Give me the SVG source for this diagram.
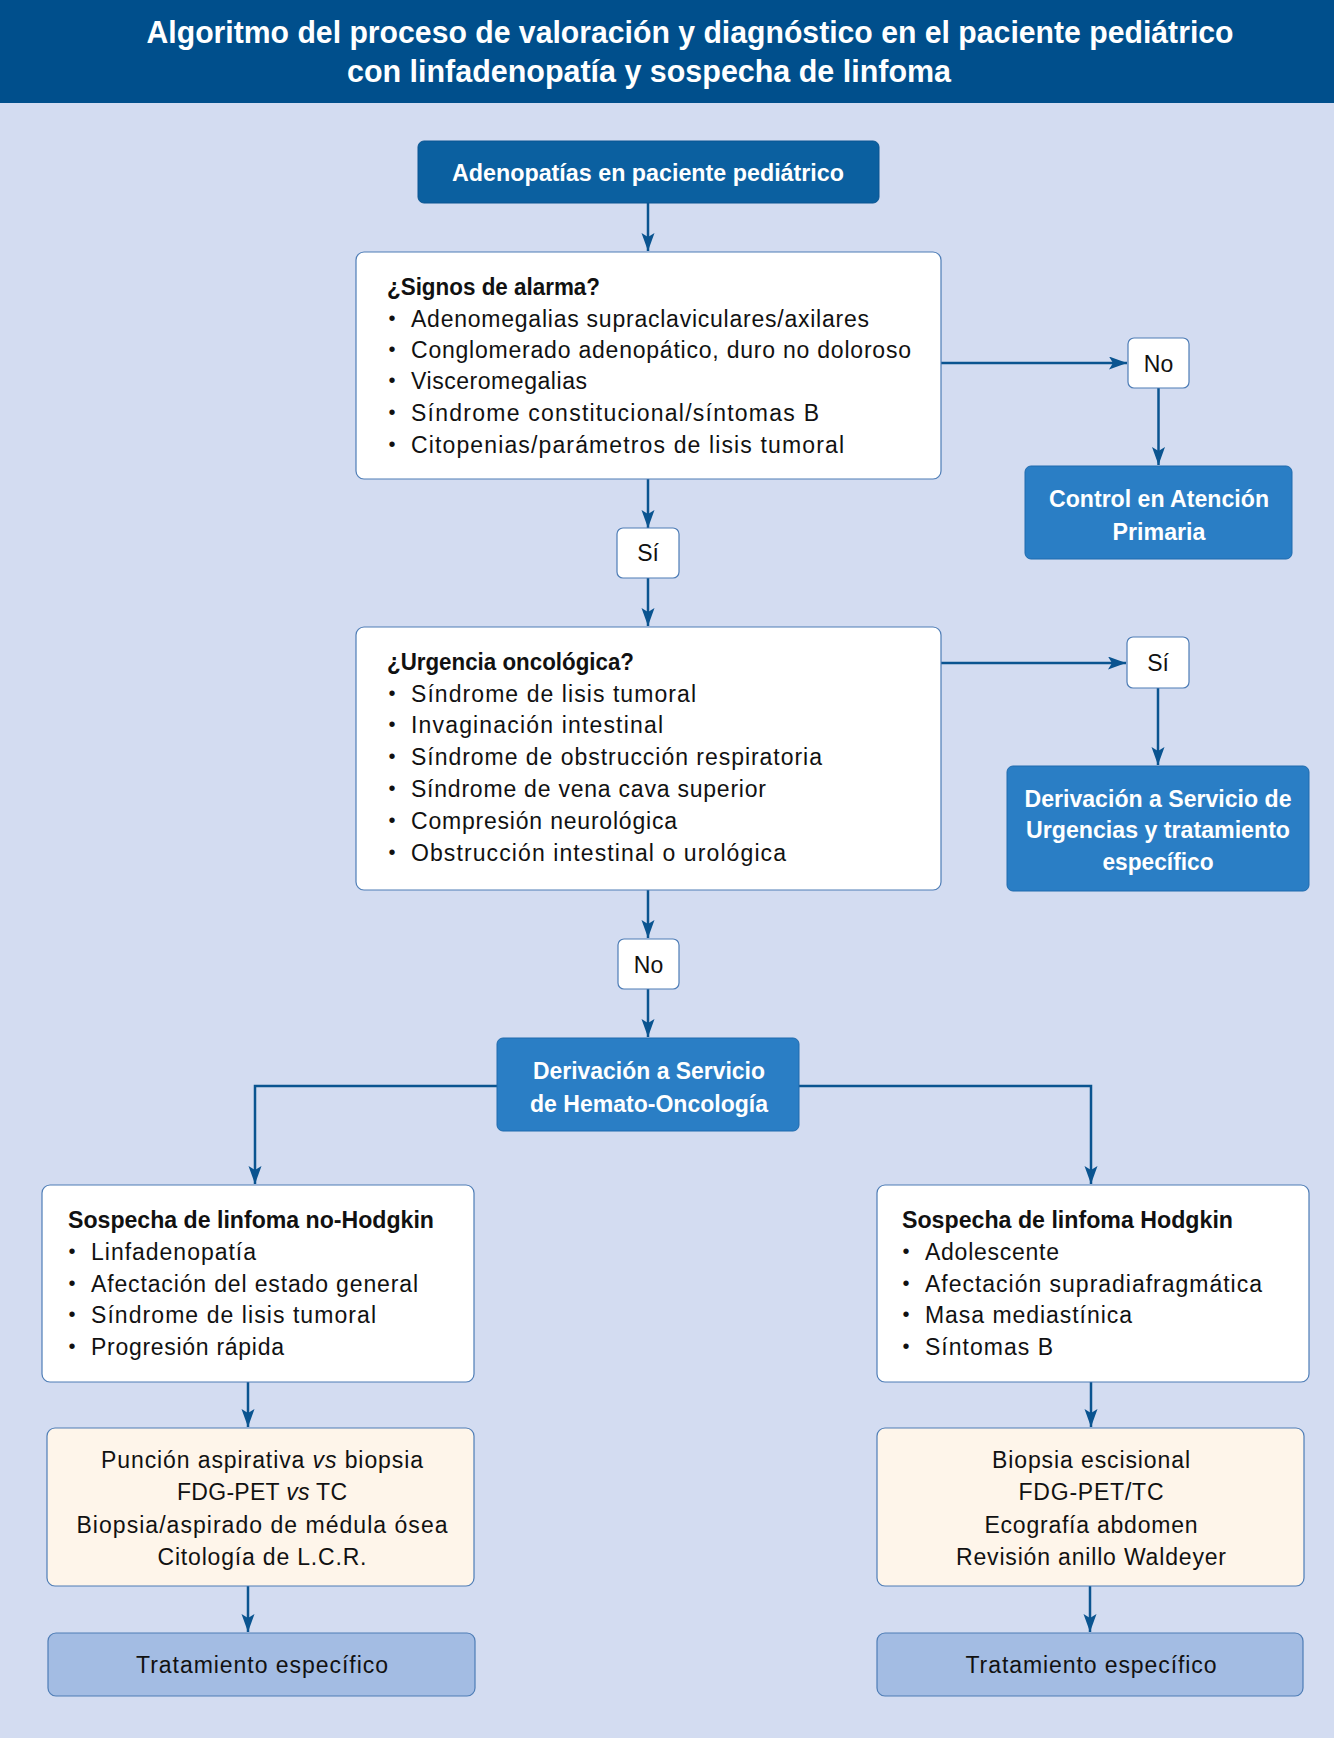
<svg xmlns="http://www.w3.org/2000/svg" width="1334" height="1738" viewBox="0 0 1334 1738">
<defs>
<marker id="ah" markerUnits="userSpaceOnUse" markerWidth="20" markerHeight="14" refX="18" refY="6.5" orient="auto">
<path d="M0,0 L18,6.5 L0,13 L4,6.5 z" fill="#0A5490"/>
</marker>
<style>
.bg{fill:#D3DCF1}
.hdr{fill:#004F8C}
.title{font-family:"Liberation Sans",Arial,sans-serif;font-weight:bold;font-size:31px;fill:#fff;text-anchor:middle}
.wbox{fill:#fff;stroke:#4E7DB6;stroke-width:1.2}
.dk{fill:#0B60A0;stroke:#0A5592;stroke-width:1}
.md{fill:#2A7EC5;stroke:#1E6AAE;stroke-width:1}
.be{fill:#FEF5EA;stroke:#4E7DB6;stroke-width:1.2}
.tr{fill:#A3BCE3;stroke:#4E7DB6;stroke-width:1.2}
.wt{font-family:"Liberation Sans",Arial,sans-serif;font-weight:bold;font-size:23px;fill:#fff;text-anchor:middle}
.hd{font-family:"Liberation Sans",Arial,sans-serif;font-weight:bold;font-size:23px;fill:#111}
.tx{font-family:"Liberation Sans",Arial,sans-serif;font-size:23px;fill:#111}
.ct{font-family:"Liberation Sans",Arial,sans-serif;font-size:23px;fill:#111;text-anchor:middle}
.bu{font-family:"Liberation Sans",Arial,sans-serif;font-size:20px;fill:#111;text-anchor:middle}
.cn{fill:none;stroke:#0A5490;stroke-width:2.5;marker-end:url(#ah)}
</style>
</defs>
<rect class="bg" x="0" y="0" width="1334" height="1738"/>
<g id="header">
<rect class="hdr" x="0" y="0" width="1334" height="103"/>
<text class="title" x="690" y="43" textLength="1087" lengthAdjust="spacingAndGlyphs">Algoritmo del proceso de valoración y diagnóstico en el paciente pediátrico</text>
<text class="title" x="649" y="82" textLength="604" lengthAdjust="spacingAndGlyphs">con linfadenopatía y sospecha de linfoma</text>
</g>
<g id="connectors">
<path class="cn" d="M648,203 V251"/>
<path class="cn" d="M941,363 H1127"/>
<path class="cn" d="M1158.5,388 V465"/>
<path class="cn" d="M648,479 V528"/>
<path class="cn" d="M648,578 V626"/>
<path class="cn" d="M941,663 H1126"/>
<path class="cn" d="M1158,688 V765"/>
<path class="cn" d="M648,890 V938"/>
<path class="cn" d="M648,989 V1037"/>
<path class="cn" d="M497,1086 H255 V1184"/>
<path class="cn" d="M799,1086 H1091 V1184"/>
<path class="cn" d="M248,1382 V1427"/>
<path class="cn" d="M1091,1382 V1427"/>
<path class="cn" d="M248,1586 V1632"/>
<path class="cn" d="M1090,1586 V1632"/>
</g>
<g id="n-adenopatias">
<rect class="dk" x="418" y="141" width="461" height="62" rx="6"/>
<text class="wt" x="648" y="181" textLength="392" lengthAdjust="spacingAndGlyphs">Adenopatías en paciente pediátrico</text>
</g>
<g id="n-signos">
<rect class="wbox" x="356" y="252" width="585" height="227" rx="8"/>
<text class="hd" x="387" y="295" textLength="213" lengthAdjust="spacingAndGlyphs">¿Signos de alarma?</text>
<text class="bu" x="392" y="325">•</text>
<text class="bu" x="392" y="356">•</text>
<text class="bu" x="392" y="387">•</text>
<text class="bu" x="392" y="419">•</text>
<text class="bu" x="392" y="451">•</text>
<text class="tx" x="411" y="327" textLength="458" lengthAdjust="spacing">Adenomegalias supraclaviculares/axilares</text>
<text class="tx" x="411" y="358" textLength="500" lengthAdjust="spacing">Conglomerado adenopático, duro no doloroso</text>
<text class="tx" x="411" y="389" textLength="176" lengthAdjust="spacing">Visceromegalias</text>
<text class="tx" x="411" y="421" textLength="408" lengthAdjust="spacing">Síndrome constitucional/síntomas B</text>
<text class="tx" x="411" y="453" textLength="433" lengthAdjust="spacing">Citopenias/parámetros de lisis tumoral</text>
</g>
<g id="l-no1">
<rect class="wbox" x="1128" y="338" width="61" height="50" rx="6"/>
<text class="ct" x="1158.5" y="372">No</text>
</g>
<g id="n-control">
<rect class="md" x="1025" y="466" width="267" height="93" rx="6"/>
<text class="wt" x="1159" y="507" textLength="220" lengthAdjust="spacingAndGlyphs">Control en Atención</text>
<text class="wt" x="1159" y="540" textLength="93" lengthAdjust="spacingAndGlyphs">Primaria</text>
</g>
<g id="l-si1">
<rect class="wbox" x="617" y="528" width="62" height="50" rx="6"/>
<text class="ct" x="648" y="561">Sí</text>
</g>
<g id="n-urgencia">
<rect class="wbox" x="356" y="627" width="585" height="263" rx="8"/>
<text class="hd" x="387" y="670" textLength="247" lengthAdjust="spacingAndGlyphs">¿Urgencia oncológica?</text>
<text class="bu" x="392" y="700">•</text>
<text class="bu" x="392" y="731">•</text>
<text class="bu" x="392" y="763">•</text>
<text class="bu" x="392" y="795">•</text>
<text class="bu" x="392" y="827">•</text>
<text class="bu" x="392" y="859">•</text>
<text class="tx" x="411" y="702" textLength="285" lengthAdjust="spacing">Síndrome de lisis tumoral</text>
<text class="tx" x="411" y="733" textLength="252" lengthAdjust="spacing">Invaginación intestinal</text>
<text class="tx" x="411" y="765" textLength="411" lengthAdjust="spacing">Síndrome de obstrucción respiratoria</text>
<text class="tx" x="411" y="797" textLength="355" lengthAdjust="spacing">Síndrome de vena cava superior</text>
<text class="tx" x="411" y="829" textLength="266" lengthAdjust="spacing">Compresión neurológica</text>
<text class="tx" x="411" y="861" textLength="375" lengthAdjust="spacing">Obstrucción intestinal o urológica</text>
</g>
<g id="l-si2">
<rect class="wbox" x="1127" y="637" width="62" height="51" rx="6"/>
<text class="ct" x="1158" y="671">Sí</text>
</g>
<g id="n-urgencias">
<rect class="md" x="1007" y="766" width="302" height="125" rx="6"/>
<text class="wt" x="1158" y="807" textLength="267" lengthAdjust="spacingAndGlyphs">Derivación a Servicio de</text>
<text class="wt" x="1158" y="838" textLength="264" lengthAdjust="spacingAndGlyphs">Urgencias y tratamiento</text>
<text class="wt" x="1158" y="870" textLength="111" lengthAdjust="spacingAndGlyphs">específico</text>
</g>
<g id="l-no2">
<rect class="wbox" x="618" y="939" width="61" height="50" rx="6"/>
<text class="ct" x="648.5" y="973">No</text>
</g>
<g id="n-hemato">
<rect class="md" x="497" y="1038" width="302" height="93" rx="6"/>
<text class="wt" x="649" y="1079" textLength="232" lengthAdjust="spacingAndGlyphs">Derivación a Servicio</text>
<text class="wt" x="649" y="1112" textLength="238" lengthAdjust="spacingAndGlyphs">de Hemato-Oncología</text>
</g>
<g id="n-lnh">
<rect class="wbox" x="42" y="1185" width="432" height="197" rx="8"/>
<text class="hd" x="68" y="1228" textLength="366" lengthAdjust="spacingAndGlyphs">Sospecha de linfoma no-Hodgkin</text>
<text class="bu" x="72" y="1258">•</text>
<text class="bu" x="72" y="1290">•</text>
<text class="bu" x="72" y="1321">•</text>
<text class="bu" x="72" y="1353">•</text>
<text class="tx" x="91" y="1260" textLength="165" lengthAdjust="spacing">Linfadenopatía</text>
<text class="tx" x="91" y="1292" textLength="327" lengthAdjust="spacing">Afectación del estado general</text>
<text class="tx" x="91" y="1323" textLength="285" lengthAdjust="spacing">Síndrome de lisis tumoral</text>
<text class="tx" x="91" y="1355" textLength="193" lengthAdjust="spacing">Progresión rápida</text>
</g>
<g id="n-lh">
<rect class="wbox" x="877" y="1185" width="432" height="197" rx="8"/>
<text class="hd" x="902" y="1228" textLength="331" lengthAdjust="spacingAndGlyphs">Sospecha de linfoma Hodgkin</text>
<text class="bu" x="906" y="1258">•</text>
<text class="bu" x="906" y="1290">•</text>
<text class="bu" x="906" y="1321">•</text>
<text class="bu" x="906" y="1353">•</text>
<text class="tx" x="925" y="1260" textLength="134" lengthAdjust="spacing">Adolescente</text>
<text class="tx" x="925" y="1292" textLength="337" lengthAdjust="spacing">Afectación supradiafragmática</text>
<text class="tx" x="925" y="1323" textLength="207" lengthAdjust="spacing">Masa mediastínica</text>
<text class="tx" x="925" y="1355" textLength="128" lengthAdjust="spacing">Síntomas B</text>
</g>
<g id="n-pruebas-lnh">
<rect class="be" x="47" y="1428" width="427" height="158" rx="8"/>
<text class="ct" x="262" y="1468" textLength="322" lengthAdjust="spacing">Punción aspirativa <tspan font-style="italic">vs</tspan> biopsia</text>
<text class="ct" x="262" y="1500" textLength="170" lengthAdjust="spacing">FDG-PET <tspan font-style="italic">vs</tspan> TC</text>
<text class="ct" x="262" y="1533" textLength="371" lengthAdjust="spacing">Biopsia/aspirado de médula ósea</text>
<text class="ct" x="262" y="1565" textLength="209" lengthAdjust="spacing">Citología de L.C.R.</text>
</g>
<g id="n-pruebas-lh">
<rect class="be" x="877" y="1428" width="427" height="158" rx="8"/>
<text class="ct" x="1091" y="1468" textLength="198" lengthAdjust="spacing">Biopsia escisional</text>
<text class="ct" x="1091" y="1500" textLength="145" lengthAdjust="spacing">FDG-PET/TC</text>
<text class="ct" x="1091" y="1533" textLength="213" lengthAdjust="spacing">Ecografía abdomen</text>
<text class="ct" x="1091" y="1565" textLength="270" lengthAdjust="spacing">Revisión anillo Waldeyer</text>
</g>
<g id="n-tratamiento-lnh">
<rect class="tr" x="48" y="1633" width="427" height="63" rx="8"/>
<text class="ct" x="262" y="1673" textLength="252" lengthAdjust="spacing">Tratamiento específico</text>
</g>
<g id="n-tratamiento-lh">
<rect class="tr" x="877" y="1633" width="426" height="63" rx="8"/>
<text class="ct" x="1091" y="1673" textLength="251" lengthAdjust="spacing">Tratamiento específico</text>
</g>
</svg>
